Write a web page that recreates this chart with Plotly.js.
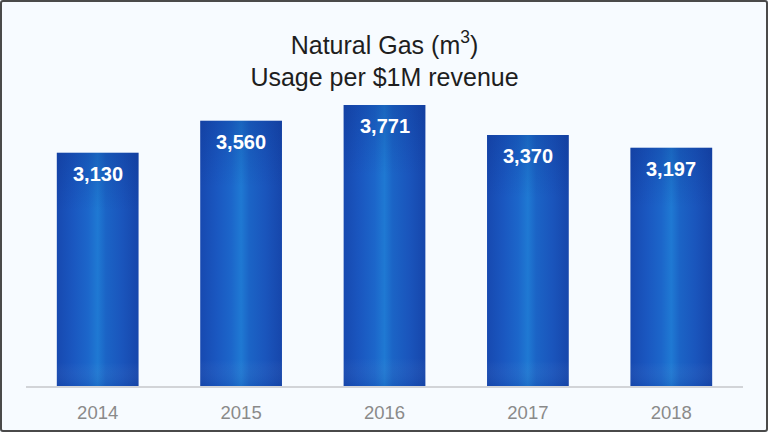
<!DOCTYPE html>
<html>
<head>
<meta charset="utf-8">
<script src="https://cdn.plot.ly/plotly-3.0.1.min.js"></script>
<style>
html,body{margin:0;padding:0;background:#f7fbff;}
#wrap{position:relative;width:768px;height:432px;}
#chart{width:768px;height:432px;}
#frame{position:absolute;left:0;top:0;width:768px;height:432px;box-sizing:border-box;border:2px solid #4a4a4a;border-radius:3px;pointer-events:none;}
</style>
</head>
<body>
<div id="wrap"><div id="chart"></div><div id="frame"></div></div>
<script>
const years = ['2014', '2015', '2016', '2017', '2018'];
const usage = [3130, 3560, 3771, 3370, 3197];
const valueLabels = ['3,130', '3,560', '3,771', '3,370', '3,197'];

const positions = years.map((_, i) => i);

const trace = {
  type: 'bar',
  x: positions,
  y: usage,
  width: 0.57,
  marker: {color: '#1a57bd', line: {width: 0}},
  hoverinfo: 'none'
};

const annotations = positions.map((p, i) => ({
  x: p, y: usage[i], xref: 'x', yref: 'y',
  xanchor: 'center', yanchor: 'middle',
  text: '<b>' + valueLabels[i] + '</b>',
  showarrow: false, yshift: -21,
  font: {family: 'Liberation Sans, Arial, sans-serif', size: 20, color: '#ffffff'}
}));

const layout = {
  width: 768, height: 432,
  paper_bgcolor: '#f7fbff', plot_bgcolor: '#f7fbff',
  margin: {l: 26, r: 25, t: 105, b: 46},
  showlegend: false,
  title: {
    text: 'Natural Gas (m<sup>3</sup>)<br>Usage per $1M revenue',
    x: 0.5, xanchor: 'center', xref: 'paper',
    y: 0.876, yanchor: 'top', yref: 'container',
    font: {family: 'Liberation Sans, Arial, sans-serif', size: 25, color: '#1e1e1e'}
  },
  xaxis: {
    range: [-0.5, 4.5],
    tickmode: 'array', tickvals: positions, ticktext: years,
    showline: true, linecolor: '#d2d4d8', linewidth: 1.5,
    ticks: 'outside', ticklen: 9, tickcolor: 'rgba(0,0,0,0)',
    showgrid: false, zeroline: false,
    tickfont: {family: 'Liberation Sans, Arial, sans-serif', size: 18.5, color: '#8a8a8a'}
  },
  yaxis: {
    range: [0, 3771], visible: false, showgrid: false, zeroline: false
  },
  annotations: annotations
};

Plotly.newPlot('chart', [trace], layout, {displayModeBar: false, staticPlot: true}).then(gd => {
  const svg = gd.querySelector('svg.main-svg');
  const ns = 'http://www.w3.org/2000/svg';
  let defs = svg.querySelector('defs');
  if (!defs) { defs = document.createElementNS(ns, 'defs'); svg.insertBefore(defs, svg.firstChild); }
  const g = document.createElementNS(ns, 'linearGradient');
  g.setAttribute('id', 'barGrad');
  g.setAttribute('x1', '0'); g.setAttribute('x2', '1'); g.setAttribute('y1', '0'); g.setAttribute('y2', '0');
  const stops = [[0, '#1749b0'], [0.2, '#1a57c0'], [0.38, '#1c66ca'], [0.5, '#1f79d3'], [0.6, '#1b64c6'], [0.8, '#1a55bc'], [1, '#1646ab']];
  stops.forEach(([o, c]) => {
    const s = document.createElementNS(ns, 'stop');
    s.setAttribute('offset', o); s.setAttribute('stop-color', c);
    g.appendChild(s);
  });
  defs.appendChild(g);
  const g2 = document.createElementNS(ns, 'linearGradient');
  g2.setAttribute('id', 'barShade');
  g2.setAttribute('x1', '0'); g2.setAttribute('x2', '0'); g2.setAttribute('y1', '0'); g2.setAttribute('y2', '1');
  [[0, '#0a2a80', 0.25], [0.25, '#0a2a80', 0.0], [0.9, '#ffffff', 0.0], [1, '#0a2a80', 0.12]].forEach(([o, c, op]) => {
    const s = document.createElementNS(ns, 'stop');
    s.setAttribute('offset', o); s.setAttribute('stop-color', c); s.setAttribute('stop-opacity', op);
    g2.appendChild(s);
  });
  defs.appendChild(g2);
  gd.querySelectorAll('.barlayer .point path').forEach(p => {
    p.style.fill = 'url(#barGrad)';
    const c = p.cloneNode(true);
    c.style.fill = 'url(#barShade)';
    p.parentNode.appendChild(c);
  });
});
</script>
</body>
</html>
